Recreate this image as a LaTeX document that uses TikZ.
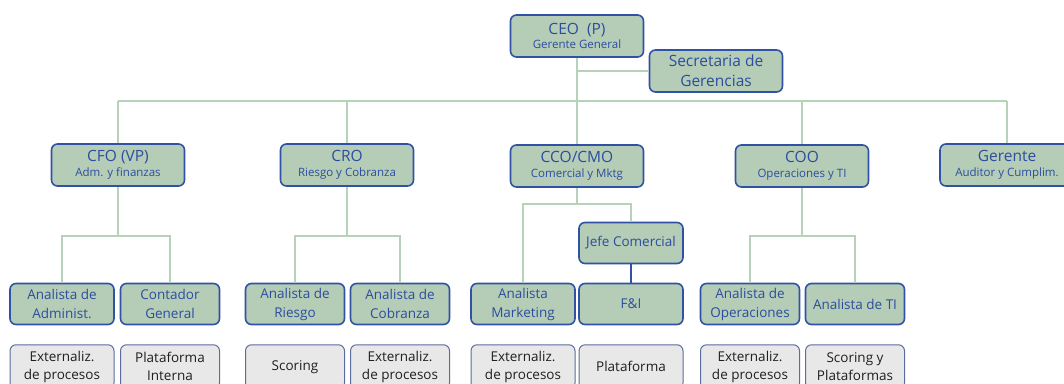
\documentclass[tikz,border=0pt]{standalone}
\usepackage{fontspec}
\setmainfont{Open Sans}
\usetikzlibrary{positioning}
\definecolor{boxfill}{RGB}{181,205,183}
\definecolor{boxline}{RGB}{47,82,165}
\definecolor{boxtext}{RGB}{44,77,158}
\definecolor{linkgreen}{RGB}{183,210,185}
\definecolor{extfill}{RGB}{232,232,232}
\definecolor{extline}{RGB}{92,108,158}
\newcommand\roletext[2]{{\fontsize{15.5}{18}\selectfont #1}\\[2.5pt]{\fontsize{11.5}{18}\selectfont #2}}

\begin{document}
\begin{tikzpicture}[x=1pt,y=-1pt,
  role/.style={draw=boxline,fill=boxfill,text=boxtext,line width=1.6pt,rounded corners=6pt,
    minimum width=133pt,minimum height=42pt,align=center,inner sep=1pt},
  staff/.style={role,minimum width=99pt,minimum height=41pt,font=\fontsize{13.5}{19}\selectfont},
  ext/.style={draw=extline,fill=extfill,text=black!88,line width=1pt,rounded corners=6pt,
    minimum width=99pt,minimum height=44pt,align=center,inner sep=1pt,font=\fontsize{13.5}{18}\selectfont},
  wide/.style={minimum width=104pt},
  link/.style={draw=linkgreen,line width=1.8pt}]
\useasboundingbox (0,0) rectangle (1064,383);
\clip (0,0) rectangle (1064,383);
% top
\node[role] (ceo) at (577,36) {\roletext{CEO~~(P)}{Gerente General}};
\node[role,font=\fontsize{15.5}{20}\selectfont] (sec) at (716,71) {Secretaria de\\Gerencias};
% chiefs
\node[role] (cfo) at (118,165) {\roletext{CFO (VP)}{Adm. y finanzas}};
\node[role] (cro) at (347,165) {\roletext{CRO}{Riesgo y Cobranza}};
\node[role] (cco) at (577,166) {\roletext{CCO/CMO}{Comercial y Mktg}};
\node[role] (coo) at (802,166) {\roletext{COO}{Operaciones y TI}};
\node[role,minimum width=134pt] (aud) at (1007,165) {\roletext{Gerente}{Auditor y Cumplim.}};
% staff
\node[staff,wide] (jefe) at (631,243) {Jefe Comercial};
\node[staff,wide] (adm) at (62,304) {Analista de\\Administ.};
\node[staff] (cont) at (170,304) {Contador\\General};
\node[staff] (rsg) at (295,304) {Analista de\\Riesgo};
\node[staff] (cob) at (400,304) {Analista de\\Cobranza};
\node[staff,wide] (mkt) at (523,304) {Analista\\Marketing};
\node[staff,wide] (fi) at (631,304) {F\&I};
\node[staff] (ops) at (750,304) {Analista de\\Operaciones};
\node[staff] (ti) at (855,304) {Analista de TI};
% externals
\node[ext,wide] (adm-x) [below=19pt of adm] {Externaliz.\\de procesos};
\node[ext] (cont-x) [below=19pt of cont] {Plataforma\\Interna};
\node[ext] (rsg-x) [below=19pt of rsg] {Scoring};
\node[ext] (cob-x) [below=19pt of cob] {Externaliz.\\de procesos};
\node[ext,wide] (mkt-x) [below=19pt of mkt] {Externaliz.\\de procesos};
\node[ext,wide] (fi-x) [below=19pt of fi] {Plataforma};
\node[ext] (ops-x) [below=19pt of ops] {Externaliz.\\de procesos};
\node[ext] (ti-x) [below=19pt of ti] {Scoring y\\Plataformas};
% connectors
\coordinate (bus) at (0,101);
\coordinate (lowbus) at (0,236);
\coordinate (ccobus) at (0,204);
\draw[link] (ceo) -- (ceo |- bus);
\draw[link] (ceo |- sec) -- (sec);
\draw[link] (cfo |- bus) -- (aud |- bus);
\foreach \n in {cfo,cro,cco,coo,aud}
  \draw[link] (\n |- bus) -- (\n);
\draw[link] (cfo) -- (cfo |- lowbus);
\draw[link] (adm) -- (adm |- lowbus) -- (cont |- lowbus) -- (cont);
\draw[link] (cro) -- (cro |- lowbus);
\draw[link] (rsg) -- (rsg |- lowbus) -- (cob |- lowbus) -- (cob);
\draw[link] (coo) -- (coo |- lowbus);
\draw[link] (ops) -- (ops |- lowbus) -- (ti |- lowbus) -- (ti);
\draw[link] (cco) -- (cco |- ccobus);
\draw[link] (mkt) -- (mkt |- ccobus) -- (jefe |- ccobus) -- (jefe);
\draw[boxline,line width=1.6pt] (jefe) -- (fi);
\end{tikzpicture}
\end{document}
